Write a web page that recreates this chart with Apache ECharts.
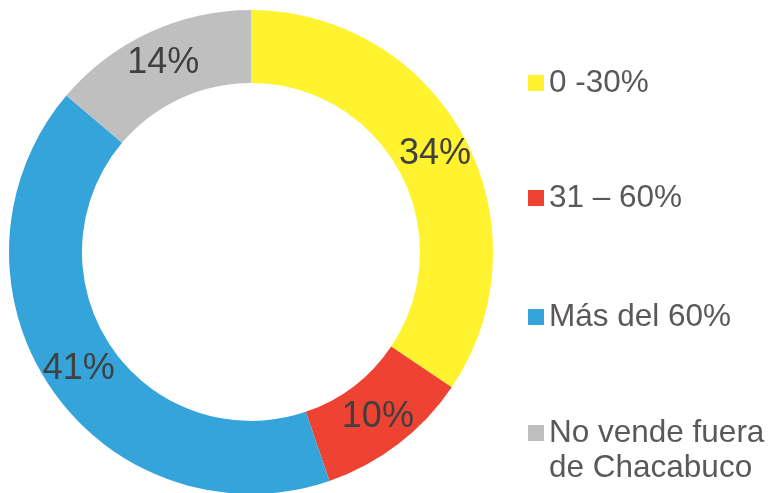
<!DOCTYPE html>
<html><head><meta charset="utf-8">
<script src="https://cdn.jsdelivr.net/npm/echarts@6/dist/echarts.min.js"></script>
<style>html,body{margin:0;padding:0;background:#fff}#c{width:773px;height:493px}</style>
</head><body><div id="c"></div>
<script>
const categories = ['0 -30%', '31 – 60%', 'Más del 60%', 'No vende fuera\nde Chacabuco'];
const values = [34.4, 10.3, 41.4, 13.8];
const colors = ['#FFF22F', '#EE4232', '#35A4DB', '#BFBFBF'];
const legendTops = [65.5, 180.5, 299.5, 380.5];

const chart = echarts.init(document.getElementById('c'), null, {renderer: 'canvas'});
const font = 'Liberation Sans, Arial, sans-serif';
const legends = categories.map((name, i) => ({
  left: 528,
  top: legendTops[i],
  orient: 'vertical',
  padding: 0,
  itemWidth: 16,
  itemHeight: 16,
  icon: 'rect',
  selectedMode: false,
  data: [name],
  formatter: n => (n.indexOf('\n') >= 0 ? '\n' + n : n),
  textStyle: {fontFamily: font, fontSize: 31.5, lineHeight: 35, color: '#595959'}
}));

chart.setOption({
  animation: false,
  color: colors,
  legend: legends,
  series: [{
    type: 'pie',
    center: [251, 252],
    radius: [169, 242],
    startAngle: 90,
    clockwise: true,
    avoidLabelOverlap: false,
    label: {
      show: true,
      position: 'inside',
      fontFamily: font,
      fontSize: 36,
      color: '#404040',
      formatter: p => Math.round(p.value) + '%'
    },
    labelLine: {show: false},
    itemStyle: {borderWidth: 0},
    emphasis: {disabled: true},
    data: categories.map((n, i) => ({name: n, value: values[i]}))
  }]
});
</script></body></html>
